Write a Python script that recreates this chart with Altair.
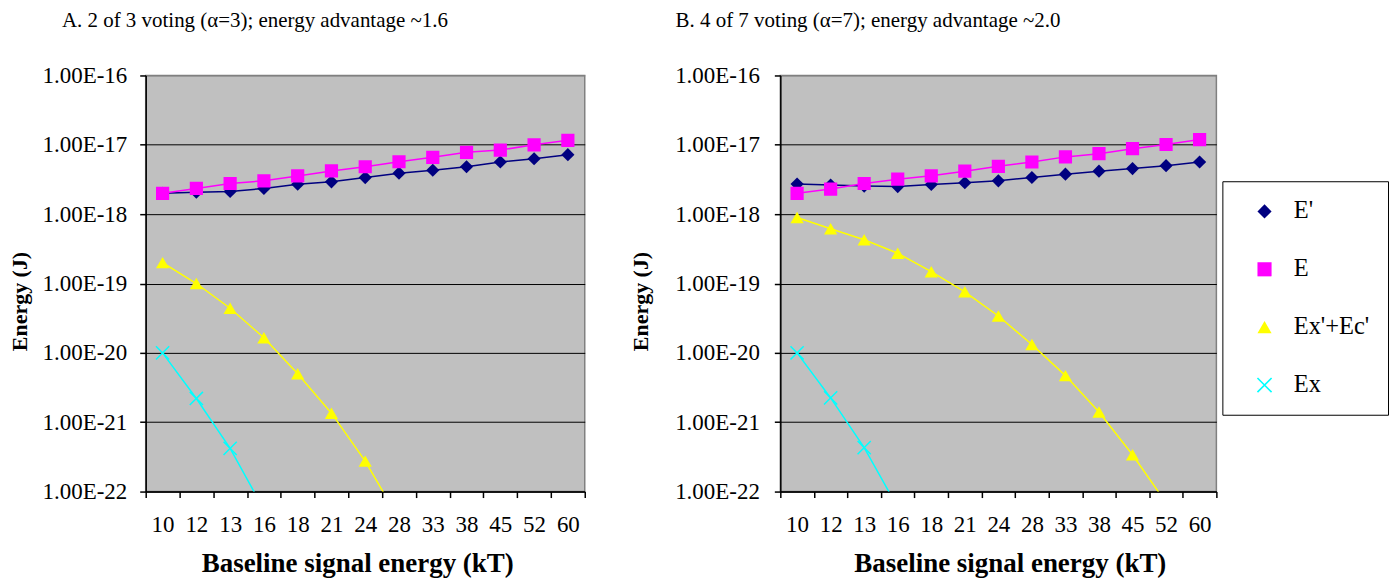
import altair as alt
import pandas as pd

categories = ["10", "12", "13", "16", "18", "21", "24", "28", "33", "38", "45", "52", "60"]
series_names = ["E'", "E", "Ex'+Ec'", "Ex"]
series_colors = ["#000080", "#FF00FF", "#FFFF00", "#00FFFF"]
decades = [1e-22, 1e-21, 1e-20, 1e-19, 1e-18, 1e-17, 1e-16]

# Panel A: 2 of 3 voting
a_e_prime = [2.0e-18, 2.07e-18, 2.13e-18, 2.35e-18, 2.7e-18, 2.93e-18, 3.37e-18,
             3.9e-18, 4.3e-18, 4.83e-18, 5.65e-18, 6.3e-18, 7.2e-18]
a_e = [2.0e-18, 2.35e-18, 2.77e-18, 3.03e-18, 3.56e-18, 4.2e-18, 4.83e-18,
       5.7e-18, 6.6e-18, 7.8e-18, 8.4e-18, 1.0e-17, 1.16e-17]
a_ex_ec = [2.0e-19, 1.0e-19, 4.4e-20, 1.65e-20, 5.0e-21, 1.35e-21, 2.75e-22, 4.0e-23]
a_ex = [1.0e-20, 2.2e-21, 4.2e-22, 5.5e-23]

# Panel B: 4 of 7 voting
b_e_prime = [2.72e-18, 2.63e-18, 2.54e-18, 2.5e-18, 2.68e-18, 2.84e-18, 3.03e-18,
             3.38e-18, 3.77e-18, 4.17e-18, 4.54e-18, 5.0e-18, 5.65e-18]
b_e = [2.0e-18, 2.3e-18, 2.77e-18, 3.2e-18, 3.57e-18, 4.17e-18, 4.9e-18,
       5.65e-18, 6.7e-18, 7.45e-18, 8.8e-18, 1.01e-17, 1.19e-17]
b_ex_ec = [8.95e-19, 6.15e-19, 4.27e-19, 2.73e-19, 1.48e-19, 7.6e-20, 3.4e-20,
           1.32e-20, 4.7e-21, 1.4e-21, 3.4e-22, 6.9e-23]
b_ex = [1.0e-20, 2.24e-21, 4.3e-22, 5.9e-23]

FONT = "Liberation Serif"

# filled "x" marker made of two thin bars
XPATH = ("M-1.08,-0.92L0.92,1.08L1.08,0.92L-0.92,-1.08Z"
         "M-0.92,1.08L1.08,-0.92L0.92,-1.08L-1.08,0.92Z")
marker_shapes = ["diamond", "square", "triangle-up", XPATH]


def long_df(cols):
    rows = []
    for name, vals in zip(series_names, cols):
        for i, v in enumerate(vals):
            rows.append({"cat": categories[i], "idx": i, "series": name, "val": v})
    return pd.DataFrame(rows)


def panel(df, title, title_dx, width, label_pad, title_pad, xtitle_x, show_legend):
    x = alt.X("cat:N", sort=categories, bandPosition=0.5,
              scale=alt.Scale(type="band", domain=categories, paddingInner=0, paddingOuter=0),
              axis=alt.Axis(title="Baseline signal energy (kT)", tickBand="extent", labelAngle=0,
                            labelOverlap=False, labelPadding=16, tickSize=6, grid=False,
                            titleFontSize=27, titlePadding=14, titleX=xtitle_x))
    y = alt.Y("val:Q",
              scale=alt.Scale(type="log", domain=[1e-22, 1e-16], nice=False),
              axis=alt.Axis(title="Energy (J)", values=decades,
                            labelExpr="replace(format(datum.value, '.2e'), 'e', 'E')",
                            grid=True,
                            gridColor={"condition": {"test": "datum.value > 5e-17", "value": "#808080"},
                                       "value": "black"},
                            gridWidth=1, gridOpacity=1,
                            tickSize=6, labelPadding=label_pad, titlePadding=title_pad,
                            titleFontSize=22, titleY=226, labelOverlap=False))
    base = alt.Chart(df)
    lines = base.mark_line(clip=True, strokeWidth=1.5).encode(
        x=x, y=y,
        stroke=alt.Stroke("series:N", scale=alt.Scale(domain=series_names, range=series_colors),
                          legend=None),
        order=alt.Order("idx:Q"))
    leg = (alt.Legend(title=None, orient="none", legendX=443, legendY=106)
           if show_legend else None)
    points = base.mark_point(filled=True, opacity=1, size=175, clip=True).encode(
        x=x, y=y,
        color=alt.Color("series:N", scale=alt.Scale(domain=series_names, range=series_colors),
                        legend=leg),
        shape=alt.Shape("series:N", scale=alt.Scale(domain=series_names, range=marker_shapes),
                        legend=leg),
    )
    return alt.layer(lines, points).properties(
        width=width, height=417,
        title=alt.Title(title, anchor="start", frame="group", dx=title_dx, offset=34),
    )


dfA = long_df([a_e_prime, a_e, a_ex_ec, a_ex])
dfB = long_df([b_e_prime, b_e, b_ex_ec, b_ex])

pA = panel(dfA, "A. 2 of 3 voting (\u03b1=3); energy advantage ~1.6", -84, 440, 13, 10, 212, False)
pB = panel(dfB, "B. 4 of 7 voting (\u03b1=7); energy advantage ~2.0", -105, 437, 15, 22, 230, True)

chart = (
    alt.hconcat(pA, pB, spacing=42)
    .resolve_scale(color="independent", shape="independent")
    .properties(padding=0)
    .configure_view(fill="#C0C0C0", stroke="#808080", strokeWidth=1.5)
    .configure_axis(domainColor="black", domainWidth=1.5, tickColor="black", tickWidth=1.5,
                    labelFont=FONT, labelFontSize=23, labelColor="black",
                    titleFont=FONT, titleFontWeight="bold", titleColor="black")
    .configure_legend(padding=18, strokeColor="black", fillColor="white",
                      symbolSize=200, symbolOffset=12, labelOffset=17,
                      labelFont=FONT, labelFontSize=24.5, labelColor="black",
                      rowPadding=33, labelLimit=300, symbolOpacity=1)
    .configure_title(font=FONT, fontSize=21, fontWeight="normal", color="black")
)

chart.save("out.html", embed_options={"renderer": "svg", "actions": False})
